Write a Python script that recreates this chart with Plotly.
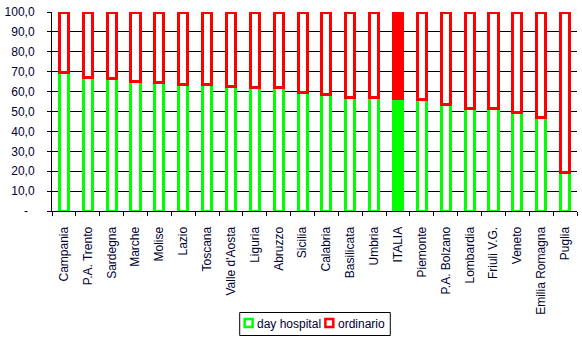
import plotly.graph_objects as go

# Regions ordered by day-hospital share (ITALIA = national total)
regions = ["Campania", "P.A. Trento", "Sardegna", "Marche", "Molise", "Lazio",
           "Toscana", "Valle d'Aosta", "Liguria", "Abruzzo", "Sicilia", "Calabria",
           "Basilicata", "Umbria", "ITALIA", "Piemonte", "P.A. Bolzano", "Lombardia",
           "Friuli V.G.", "Veneto", "Emilia Romagna", "Puglia"]

# Percentage of discharges in day hospital
day_hospital = [69.4, 67.2, 66.7, 65.3, 64.8, 63.8, 63.8, 62.7, 62.0, 62.0, 59.6,
                58.5, 57.1, 56.8, 56.6, 55.8, 53.6, 51.3, 51.3, 49.6, 47.2, 19.2]

# Ordinary admissions make up the rest of each bar
ordinario = [round(100 - v, 1) for v in day_hospital]

series_names = ["day hospital", "ordinario"]

y_ticks = [0, 10, 20, 30, 40, 50, 60, 70, 80, 90, 100]
y_tick_labels = ["-\u00a0\u00a0", "10,0", "20,0", "30,0", "40,0", "50,0",
                 "60,0", "70,0", "80,0", "90,0", "100,0"]

GREEN = "#00FF00"
RED = "#FF0000"
TEXT = "#000033"
FONT = "Liberation Sans, Arial, sans-serif"

W, H = 582, 343
ML, MR, MT, MB = 47, 5, 12, 132
PW, PH = W - ML - MR, H - MT - MB

# Hollow bars everywhere except the national total, which is filled
dh_fill = [GREEN if r == "ITALIA" else "white" for r in regions]
ord_fill = [RED if r == "ITALIA" else "white" for r in regions]

fig = go.Figure()
fig.add_trace(go.Bar(
    x=regions, y=day_hospital, name=series_names[0], width=0.38,
    marker=dict(color=dh_fill, line=dict(color=GREEN, width=3)),
))
fig.add_trace(go.Bar(
    x=regions, y=ordinario, name=series_names[1], width=0.38,
    marker=dict(color=ord_fill, line=dict(color=RED, width=3)),
))


def px_x(p):
    # page pixel -> paper x (plot-area relative)
    return (p - ML) / PW


def px_y(p):
    # page pixel -> paper y (plot-area relative)
    return (H - MB - p) / PH


# Compact boxed legend under the plot
shapes = [dict(type="rect", xref="paper", yref="paper",
               x0=px_x(236.5), x1=px_x(388.5), y0=px_y(335.5), y1=px_y(312.5),
               line=dict(color="black", width=1), fillcolor="white", layer="above")]
annotations = []
legend_items = [(series_names[0], GREEN, 240.5, 253), (series_names[1], RED, 322, 334.5)]
for name, col, sx, tx in legend_items:
    shapes.append(dict(type="rect", xref="paper", yref="paper",
                       x0=px_x(sx + 1), x1=px_x(sx + 9), y0=px_y(327), y1=px_y(319),
                       line=dict(color=col, width=2.5), fillcolor="white", layer="above"))
    annotations.append(dict(text=name, xref="paper", yref="paper",
                            x=px_x(tx), y=px_y(323.5), xanchor="left", yanchor="middle",
                            showarrow=False, borderpad=0,
                            font=dict(family=FONT, size=12, color=TEXT)))

fig.update_layout(
    barmode="stack",
    width=W, height=H,
    margin=dict(l=ML, r=MR, t=MT, b=MB),
    paper_bgcolor="white", plot_bgcolor="white",
    font=dict(family=FONT, size=12, color=TEXT),
    showlegend=False,
    shapes=shapes,
    annotations=annotations,
)

fig.update_xaxes(
    type="category", tickangle=-90,
    showline=True, linecolor="black", linewidth=1,
    ticks="outside", tickson="boundaries", ticklen=4, tickcolor="black",
    showgrid=False, ticklabelstandoff=10,
    tickfont=dict(family=FONT, size=12, color=TEXT),
)
fig.update_yaxes(
    range=[0, 100], tickvals=y_ticks, ticktext=y_tick_labels,
    showline=True, linecolor="black", linewidth=1,
    ticks="outside", ticklen=4, tickcolor="black",
    showgrid=True, gridcolor="black", gridwidth=1,
    zeroline=False, ticklabelstandoff=10,
    tickfont=dict(family=FONT, size=12, color=TEXT),
)

fig.write_html("out.html")
